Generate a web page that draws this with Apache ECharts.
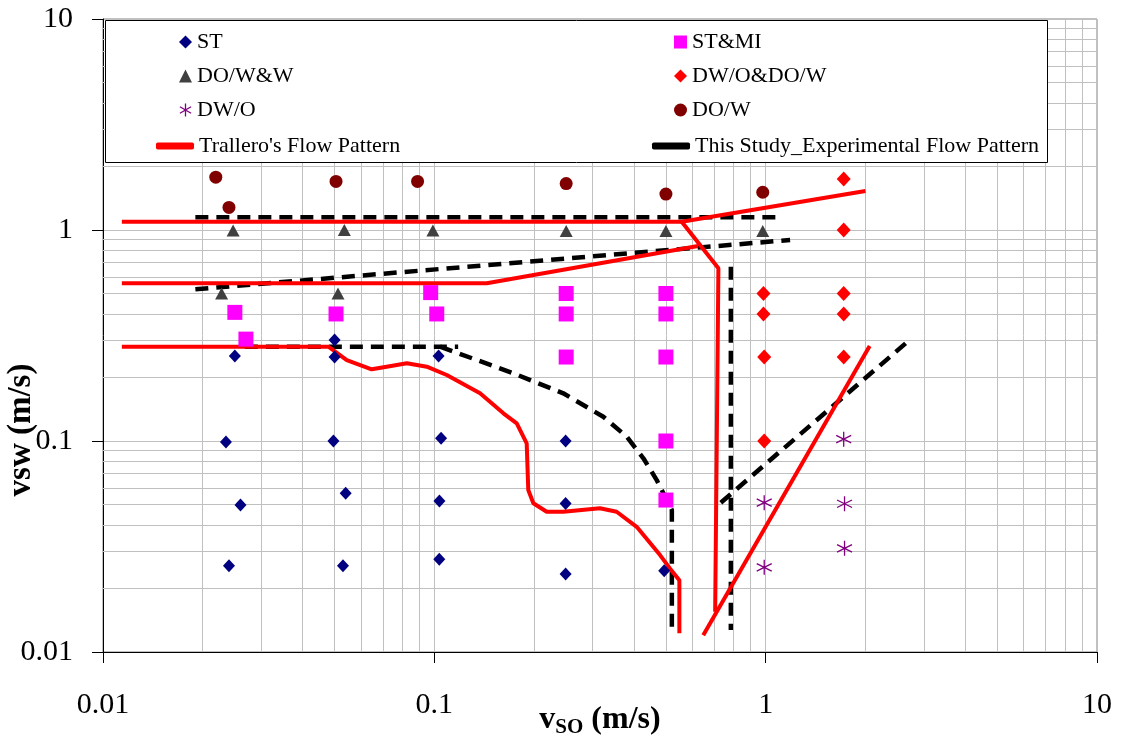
<!DOCTYPE html>
<html>
<head>
<meta charset="utf-8">
<script src="https://cdn.jsdelivr.net/npm/echarts@6/dist/echarts.min.js"></script>
<style>
html,body{margin:0;padding:0;background:#fff;}
#chart{width:1122px;height:738px;}
</style>
</head>
<body>
<div id="chart"></div>
<script>
// ---- data ----
const xTickLabels = ['0.01', '0.1', '1', '10'];
const yTickLabels = ['0.01', '0.1', '1', '10'];
const minorGridX = [0.02,0.03,0.04,0.05,0.06,0.07,0.08,0.09,0.2,0.3,0.4,0.5,0.6,0.7,0.8,0.9,2,3,4,5,6,7,8,9];
const minorGridY = [0.02,0.03,0.04,0.05,0.06,0.07,0.08,0.09,0.2,0.3,0.4,0.5,0.6,0.7,0.8,0.9,2,3,4,5,6,7,8,9];

const stData = [[0.025,0.253],[0.0235,0.099],[0.026,0.0498],[0.024,0.0256],[0.05,0.301],[0.05,0.25],[0.0496,0.1],[0.054,0.0565],[0.053,0.0256],[0.103,0.253],[0.1048,0.103],[0.1036,0.052],[0.1035,0.0275],[0.249,0.1],[0.249,0.0506],[0.249,0.0234],[0.494,0.0243]];
const stmiData = [[0.025,0.407],[0.027,0.304],[0.0505,0.4],[0.0975,0.505],[0.1017,0.4],[0.25,0.5],[0.25,0.4],[0.25,0.25],[0.5,0.5],[0.5,0.4],[0.5,0.25],[0.5,0.1],[0.5,0.0525]];
const dowwData = [[0.0247,0.995],[0.0535,1.0],[0.099,0.995],[0.25,0.99],[0.5,0.99],[0.98,0.99],[0.0228,0.5],[0.0512,0.5]];
const dwoDowData = [[1.72,1.745],[1.72,1.0],[0.985,0.5],[1.72,0.5],[0.985,0.4],[1.72,0.4],[0.99,0.25],[1.72,0.25],[0.99,0.1]];
const dwoData = [[1.72,0.102],[0.99,0.051],[1.73,0.0504],[1.73,0.031],[0.99,0.0252]];
const dowData = [[0.0219,1.78],[0.024,1.28],[0.0505,1.7],[0.089,1.7],[0.25,1.66],[0.5,1.48],[0.98,1.51]];

const trallero1 = [[0.0114,1.095],[0.558,1.095],[2.0,1.53]];
const trallero2 = [[0.558,1.095],[0.72,0.658],[0.704,0.0155]];
const trallero3 = [[0.648,0.012],[2.06,0.282]];
const trallero4 = [[0.0114,0.559],[0.144,0.559],[0.625,0.839]];
const trallero5 = [[0.0114,0.28],[0.0479,0.28],[0.0544,0.242],[0.0647,0.2187],[0.0718,0.225],[0.0826,0.2336],[0.0949,0.225],[0.109,0.2055],[0.1374,0.1683],[0.1616,0.1353],[0.1773,0.1213],[0.19,0.0975],[0.1921,0.0586],[0.199,0.0507],[0.2183,0.0462],[0.245,0.0462],[0.316,0.048],[0.355,0.0462],[0.408,0.0392],[0.48,0.0288],[0.514,0.0249],[0.549,0.0219],[0.549,0.01227]];

const study1 = [[0.019,1.148],[1.13,1.148]];
const study2 = [[0.019,0.5235],[1.185,0.897]];
const study3 = [[0.0268,0.28],[0.118,0.28]];
const study4 = [[0.104,0.28],[0.1732,0.2094],[0.245,0.1683],[0.3236,0.1303],[0.3808,0.1048],[0.4275,0.0828],[0.469,0.0653],[0.5085,0.0507],[0.521,0.0471],[0.521,0.01295]];
const study5 = [[0.785,0.67],[0.785,0.0127]];
const study6 = [[0.732,0.051],[2.73,0.303]];

// ---- chart ----
const FONT = 'Liberation Serif';
const TR = "Trallero's Flow Pattern";
const TS = 'This Study_Experimental Flow Pattern';
const asteriskPath = 'path://M5,0 L5,10 M0.7,2.5 L9.3,7.5 M9.3,2.5 L0.7,7.5';

function redLine(d){
  return {name: TR, type:'line', data:d, symbol:'none', showSymbol:false, z:4, silent:true,
    lineStyle:{color:'#ff0000', width:4}, itemStyle:{color:'#ff0000'}};
}
function blackLine(d){
  return {name: TS, type:'line', data:d, symbol:'none', showSymbol:false, z:3, silent:true,
    lineStyle:{color:'#000000', width:4.5, type:[13,8]}, itemStyle:{color:'#000000'}};
}

const chart = echarts.init(document.getElementById('chart'), null, {renderer:'canvas'});
const legendText = {fontFamily: FONT, fontSize: 22, color:'#000'};

const option = {
  animation:false,
  backgroundColor:'#ffffff',
  grid:{left:103, right:25, top:19, bottom:86, containLabel:false, outerBoundsMode:'none',
    show:true, borderColor:'#808080', borderWidth:1, backgroundColor:'transparent'},
  xAxis:{
    type:'log', logBase:10, min:0.01, max:10,
    axisLine:{show:true, onZero:false, lineStyle:{color:'#000', width:1}},
    axisTick:{show:true, length:11, inside:false, lineStyle:{color:'#000'}},
    axisLabel:{fontFamily:FONT, fontSize:30, color:'#000', margin:38,
      formatter:function(v){ const i = Math.round(Math.log10(v))+2; return xTickLabels[i] !== undefined ? xTickLabels[i] : ''; }},
    splitLine:{show:true, lineStyle:{color:'#c0c0c0', width:1}},
    minorTick:{show:false}, minorSplitLine:{show:false}
  },
  yAxis:{
    type:'log', logBase:10, min:0.01, max:10,
    axisLine:{show:true, onZero:false, lineStyle:{color:'#000', width:1}},
    axisTick:{show:true, length:11, inside:false, lineStyle:{color:'#000'}},
    axisLabel:{fontFamily:FONT, fontSize:30, color:'#000', margin:30,
      formatter:function(v){ const i = Math.round(Math.log10(v))+2; return yTickLabels[i] !== undefined ? yTickLabels[i] : ''; }},
    splitLine:{show:true, lineStyle:{color:'#c0c0c0', width:1}},
    minorTick:{show:false}, minorSplitLine:{show:false}
  },
  graphic:[
    {type:'rect', z:50, silent:true, shape:{x:105.5, y:20.5, width:942, height:142},
      style:{fill:'#ffffff', stroke:'#000000', lineWidth:1}},
    {type:'text', z:50, x:21, y:430, rotation:Math.PI/2, silent:true,
      style:{text:'vsw (m/s)', font:'bold 33px "Liberation Serif"', fill:'#000', align:'center', verticalAlign:'middle'}},
    {type:'text', z:50, x:600, y:721, silent:true,
      style:{text:'{v|v}{s|SO}{v| (m/s)}', align:'center', verticalAlign:'middle',
        rich:{
          v:{fontFamily:FONT, fontSize:32, fontWeight:'bold', fill:'#000', lineHeight:34, verticalAlign:'top'},
          s:{fontFamily:FONT, fontSize:21, fontWeight:'bold', fill:'#000', lineHeight:21, verticalAlign:'bottom', padding:[16,0,0,0]}
        }}}
  ],
  legend:[
    {orient:'vertical', left:179, top:31, itemWidth:13, itemHeight:13, itemGap:12, z:60, selectedMode:false,
      textStyle:legendText, padding:0,
      data:[{name:'ST', icon:'diamond', itemStyle:{color:'#000080', opacity:1}},
            {name:'DO/W&W', icon:'triangle', itemStyle:{color:'#404040', opacity:1}},
            {name:'DW/O', icon:asteriskPath, itemStyle:{color:'transparent', borderColor:'#800080', borderWidth:1.3, opacity:1}}]},
    {orient:'vertical', left:156, top:135, itemWidth:38, itemHeight:7, z:60, selectedMode:false,
      textStyle:legendText, padding:0,
      data:[{name:TR, icon:'roundRect', itemStyle:{color:'#ff0000', opacity:1}}]},
    {orient:'vertical', left:674, top:31, itemWidth:13, itemHeight:13, itemGap:12, z:60, selectedMode:false,
      textStyle:legendText, padding:0,
      data:[{name:'ST&MI', icon:'rect', itemStyle:{color:'#ff00ff', opacity:1}},
            {name:'DW/O&DO/W', icon:'diamond', itemStyle:{color:'#ff0000', opacity:1}},
            {name:'DO/W', icon:'circle', itemStyle:{color:'#800000', opacity:1}}]},
    {orient:'vertical', left:652, top:135, itemWidth:38, itemHeight:7, z:60, selectedMode:false,
      textStyle:legendText, padding:0,
      data:[{name:TS, icon:'roundRect', itemStyle:{color:'#000000', opacity:1}}]}
  ],
  series:[
    {type:'line', name:'grid', data:[], silent:true,
      markLine:{silent:true, z:1, symbol:['none','none'], label:{show:false}, animation:false,
        lineStyle:{color:'#c0c0c0', width:1, type:'solid'}, emphasis:{disabled:true},
        data: minorGridX.map(v=>({xAxis:v})).concat(minorGridY.map(v=>({yAxis:v})))}},
    redLine(trallero1), redLine(trallero2), redLine(trallero3), redLine(trallero4), redLine(trallero5),
    blackLine(study1), blackLine(study2), blackLine(study3), blackLine(study4), blackLine(study5), blackLine(study6),
    {name:'ST', type:'scatter', data:stData, symbol:'diamond', symbolSize:[12,13], z:5, itemStyle:{color:'#000080', opacity:1}},
    {name:'ST&MI', type:'scatter', data:stmiData, symbol:'rect', symbolSize:15, z:5, itemStyle:{color:'#ff00ff', opacity:1}},
    {name:'DO/W&W', type:'scatter', data:dowwData, symbol:'triangle', symbolSize:[13,12], z:5, itemStyle:{color:'#404040', opacity:1}},
    {name:'DW/O&DO/W', type:'scatter', data:dwoDowData, symbol:'diamond', symbolSize:[14,15], z:5, itemStyle:{color:'#ff0000', opacity:1}},
    {name:'DW/O', type:'scatter', data:dwoData, symbol:asteriskPath, symbolSize:15, z:5,
      itemStyle:{color:'transparent', borderColor:'#800080', borderWidth:1.3, opacity:1}},
    {name:'DO/W', type:'scatter', data:dowData, symbol:'circle', symbolSize:13, z:5, itemStyle:{color:'#800000', opacity:1}}
  ]
};
chart.setOption(option);
</script>
</body>
</html>
